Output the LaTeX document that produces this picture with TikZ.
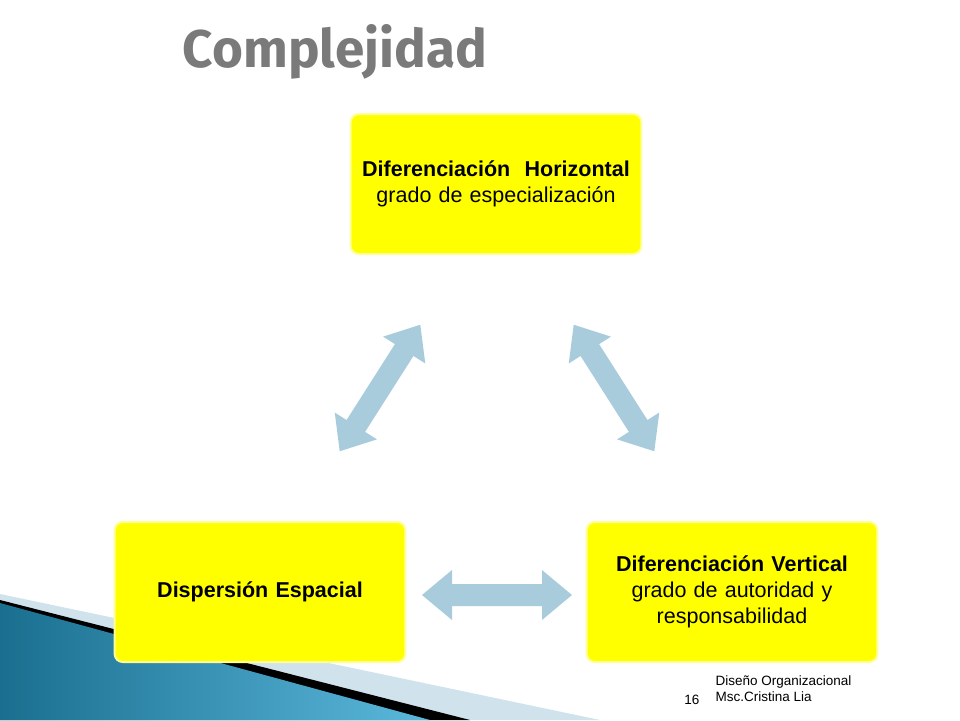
\documentclass[tikz,border=0pt]{standalone}
\usepackage{fontspec}
\setmainfont{Liberation Sans}
\newfontfamily\titlefont{Fira Sans}
\definecolor{ybox}{HTML}{FFFF00}
\definecolor{yedge}{HTML}{FFFF99}
\definecolor{arr}{HTML}{A9CCDD}
\definecolor{teal1}{HTML}{1A6F8F}
\definecolor{teal2}{HTML}{5BB8DC}
\begin{document}
\begin{tikzpicture}[x=1pt,y=-1pt,
  box/.style={draw=yedge,line width=2pt,fill=ybox,rounded corners=8pt,minimum width=286pt,minimum height=140pt,align=center,font=\fontsize{21.5}{26}\selectfont,text width=284pt},
  darr/.style={fill=arr,draw=none}]
\useasboundingbox (0,0) rectangle (960,720);
\fill[white] (0,0) rectangle (960,720);
% decoration
\fill[arr!55!white] (0,594) -- (600,720) -- (0,720) -- cycle;
\fill[black] (0,600) -- (470,720) -- (0,720) -- cycle;
\shade[left color=teal1,right color=teal2] (0,603) -- (430,720) -- (0,720) -- cycle;
% title
\node[font=\titlefont\bfseries\fontsize{53}{58}\selectfont,text=black!52] (title) at (335,52) {Complejidad};
% boxes
\node[box] (h) at (496,184) {\textbf{Diferenciación\ \ Horizontal}\\grado de especialización};
\node[box] (d) at (260,592) {\textbf{Dispersión Espacial}};
\node[box] (v) at (732,592) {\textbf{Diferenciación Vertical}\\grado de autoridad y\\responsabilidad};
% arrows
\foreach \nm/\cx/\cy/\ang in {a1/380/388/57.5, a2/614/388/-57.5, a3/497/595/0}{
  \coordinate (\nm) at (\cx,\cy);
  \fill[darr,shift={(\nm)},rotate=\ang] (-75,0) -- (-45,-25) -- (-45,-11) -- (45,-11) -- (45,-25) -- (75,0) -- (45,25) -- (45,11) -- (-45,11) -- (-45,25) -- cycle;
}
% footer
\node[font=\fontsize{13.5}{16}\selectfont,align=left,anchor=north west] (f) at (712,672) {Diseño Organizacional\\Msc.Cristina Lia};
\node[font=\fontsize{13.5}{16}\selectfont,anchor=east] (n) at (703,700) {16};
\end{tikzpicture}
\end{document}
